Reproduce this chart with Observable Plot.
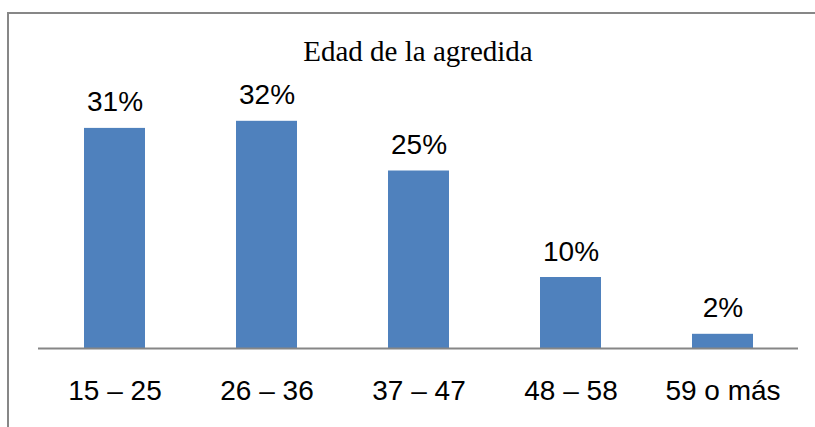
<!DOCTYPE html>
<html>
<head>
<meta charset="utf-8">
<script src="https://cdn.jsdelivr.net/npm/d3@7"></script>
<script src="https://cdn.jsdelivr.net/npm/@observablehq/plot@0.6"></script>
<style>
  html, body { margin: 0; padding: 0; background: #fff; }
  #wrap { position: relative; width: 815px; height: 427px; overflow: hidden; background: #fff; }
  #frame { position: absolute; left: 7px; top: 12px; width: 900px; height: 600px; border: 2px solid #878787; box-sizing: border-box; }
  #title { position: absolute; left: 38px; width: 760px; top: 37px; text-align: center;
           font-family: "Liberation Serif", "Times New Roman", serif; font-size: 29px; line-height: 29px; color: #000; }
  #chart { position: absolute; left: 0; top: 0; }
  #chart svg { background: transparent; }
</style>
</head>
<body>
<div id="wrap">
  <div id="frame"></div>
  <div id="chart"></div>
  <div id="title">Edad de la agredida</div>
</div>
<script>
const categories = ["15 – 25", "26 – 36", "37 – 47", "48 – 58", "59 o más"];
const values = [31, 32, 25, 10, 2];
const labels = ["31%", "32%", "25%", "10%", "2%"];

const data = categories.map((c, i) => ({category: c, value: values[i], label: labels[i]}));

const chart = Plot.plot({
  width: 815,
  height: 427,
  marginTop: 64,
  marginBottom: 79,
  marginLeft: 38,
  marginRight: 17,
  style: {background: "transparent", fontFamily: "'Liberation Sans', Arial, sans-serif"},
  x: {domain: categories, paddingInner: 0.6, paddingOuter: 0.3, label: null},
  y: {domain: [0, 40], axis: null},
  marks: [
    Plot.barY(data, {x: "category", y: "value", fill: "#4F81BD"}),
    Plot.ruleY([0], {stroke: "#868686", strokeWidth: 2}),
    Plot.text(data, {x: "category", y: "value", text: "label", lineAnchor: "bottom", dy: -17,
      fontSize: 28, fill: "#000", fontFamily: "'Liberation Sans', Arial, sans-serif"}),
    Plot.axisX({tickSize: 0, tickPadding: 32, fontSize: 28, label: null, color: "#000"})
  ]
});
document.getElementById("chart").appendChild(chart);
</script>
</body>
</html>
